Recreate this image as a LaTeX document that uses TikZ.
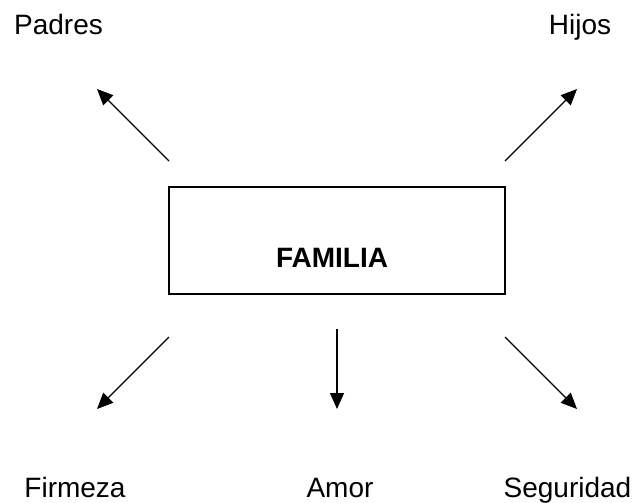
\documentclass[tikz,border=0pt]{standalone}
\usepackage{fontspec}
\setmainfont{Liberation Sans}
\usetikzlibrary{arrows.meta}
\begin{document}
\begin{tikzpicture}[x=1pt,y=-1pt,
  lbl/.style={font=\fontsize{28}{32}\selectfont, inner sep=0pt, anchor=base},
  arr/.style={line width=1.4pt, -{Triangle[length=16pt,width=14pt]}},
  mainbox/.style={draw, line width=1.4pt, minimum width=336pt, minimum height=107pt, inner sep=0pt}]
\useasboundingbox (0,0) rectangle (635,503);
\node[mainbox] (box) at (337,240.5) {};
\node[font=\fontsize{28}{32}\selectfont\bfseries, inner sep=0pt, anchor=base] (fam) at (332,267) {FAMILIA};
\node[lbl] (padres) at (58.5,35) {Padres};
\node[lbl] (hijos) at (580,35) {Hijos};
\node[lbl] (firmeza) at (75,497) {Firmeza};
\node[lbl] (amor) at (340,497) {Amor};
\node[lbl] (seg) at (567.5,497) {Seguridad};
\coordinate (a1s) at (169,161); \coordinate (a1e) at (97,89);
\coordinate (a2s) at (505,161); \coordinate (a2e) at (577,89);
\coordinate (a3s) at (169,337); \coordinate (a3e) at (97,409);
\coordinate (a4s) at (337,329); \coordinate (a4e) at (337,409);
\coordinate (a5s) at (505,337); \coordinate (a5e) at (577,409);
\draw[arr] (a1s) -- (a1e);
\draw[arr] (a2s) -- (a2e);
\draw[arr] (a3s) -- (a3e);
\draw[arr] (a4s) -- (a4e);
\draw[arr] (a5s) -- (a5e);
\end{tikzpicture}
\end{document}
